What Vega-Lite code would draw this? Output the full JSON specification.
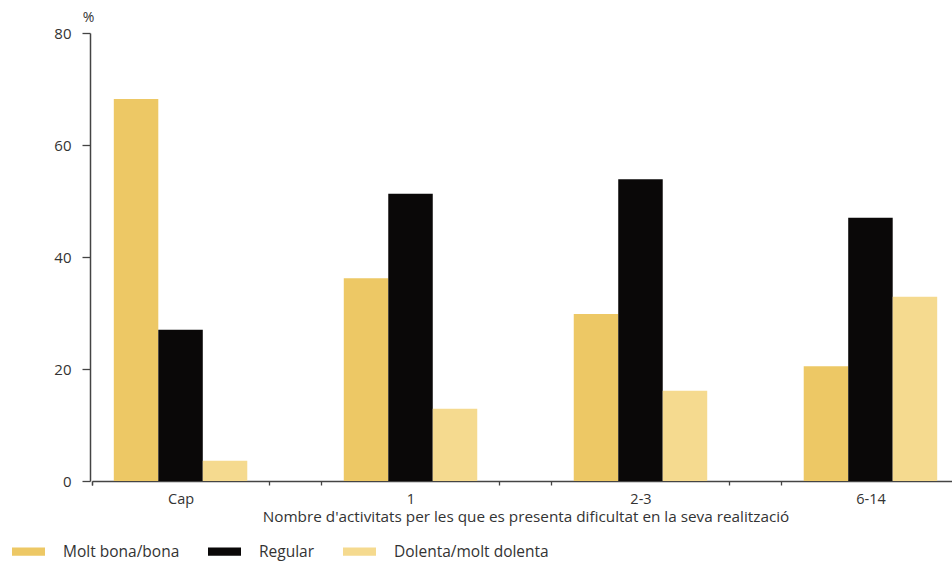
{
  "$schema": "https://vega.github.io/schema/vega-lite/v6.json",
  "autosize": {"type": "none"},
  "padding": {"left": 90, "top": 33, "right": 0, "bottom": 82},
  "width": 862,
  "height": 448,
  "background": "white",
  "config": {
    "view": {"stroke": null},
    "font": "Open Sans",
    "axis": {"labelFont": "Open Sans", "titleFont": "Open Sans", "labelColor": "#333333", "titleColor": "#333333", "domainColor": "#444444", "tickColor": "#444444", "domainWidth": 1.5, "tickWidth": 1.3, "grid": false}
  },
  "data": {
    "values": [
      {"grup": "Cap", "valoracio": "Molt bona/bona", "pct": 68.2},
      {"grup": "Cap", "valoracio": "Regular", "pct": 27.0},
      {"grup": "Cap", "valoracio": "Dolenta/molt dolenta", "pct": 3.6},
      {"grup": "1", "valoracio": "Molt bona/bona", "pct": 36.2},
      {"grup": "1", "valoracio": "Regular", "pct": 51.3},
      {"grup": "1", "valoracio": "Dolenta/molt dolenta", "pct": 12.9},
      {"grup": "2-3", "valoracio": "Molt bona/bona", "pct": 29.8},
      {"grup": "2-3", "valoracio": "Regular", "pct": 53.9},
      {"grup": "2-3", "valoracio": "Dolenta/molt dolenta", "pct": 16.1},
      {"grup": "6-14", "valoracio": "Molt bona/bona", "pct": 20.5},
      {"grup": "6-14", "valoracio": "Regular", "pct": 47.0},
      {"grup": "6-14", "valoracio": "Dolenta/molt dolenta", "pct": 32.9}
    ]
  },
  "resolve": {"axis": {"x": "independent"}},
  "layer": [
    {
      "mark": {"type": "bar"},
      "encoding": {
        "x": {
          "field": "grup", "type": "nominal", "sort": ["Cap", "1", "2-3", "6-14"],
          "scale": {"range": [2, 869], "paddingInner": 0.23, "paddingOuter": 0},
          "axis": {
            "orient": "bottom",
            "title": "Nombre d'activitats per les que es presenta dificultat en la seva realització",
            "labelAngle": 0, "labelFontSize": 14.5, "titleFontSize": 15.3, "titleFontWeight": "normal",
            "tickBand": "extent", "tickSize": 4, "labelPadding": 7, "titlePadding": 4
          }
        },
        "xOffset": {
          "field": "valoracio", "type": "nominal", "sort": ["Molt bona/bona", "Regular", "Dolenta/molt dolenta"],
          "scale": {"paddingInner": 0, "paddingOuter": 0.49}
        },
        "y": {
          "field": "pct", "type": "quantitative",
          "scale": {"domain": [0, 80], "nice": false},
          "axis": {
            "values": [0, 20, 40, 60, 80], "title": "%", "titleAngle": 0, "titleX": -2, "titleY": -9,
            "titleAlign": "center", "titleBaseline": "bottom", "titleFontSize": 14, "titleFontWeight": "normal",
            "labelFontSize": 15, "tickSize": 8, "labelPadding": 11
          }
        },
        "color": {
          "field": "valoracio", "type": "nominal",
          "sort": ["Molt bona/bona", "Regular", "Dolenta/molt dolenta"],
          "scale": {"domain": ["Molt bona/bona", "Regular", "Dolenta/molt dolenta"], "range": ["#EDC865", "#0A0808", "#F5DA8F"]},
          "legend": {
            "title": null, "orient": "none", "direction": "horizontal", "legendX": -78, "legendY": 502,
            "symbolType": "M-1,-0.25H1V0.25H-1Z", "symbolSize": 1089, "symbolStrokeWidth": 0,
            "labelFontSize": 15.5, "labelColor": "#333333", "labelOffset": 18, "columnPadding": 28, "labelFont": "Open Sans"
          }
        }
      }
    },
    {
      "mark": {"type": "bar", "opacity": 0},
      "encoding": {
        "x": {
          "field": "grup", "type": "nominal", "sort": ["Cap", "1", "2-3", "6-14"],
          "axis": {"orient": "bottom", "title": null, "labels": false, "domain": false, "bandPosition": 0, "tickSize": 4}
        },
        "y": {"field": "pct", "type": "quantitative"}
      }
    }
  ]
}
